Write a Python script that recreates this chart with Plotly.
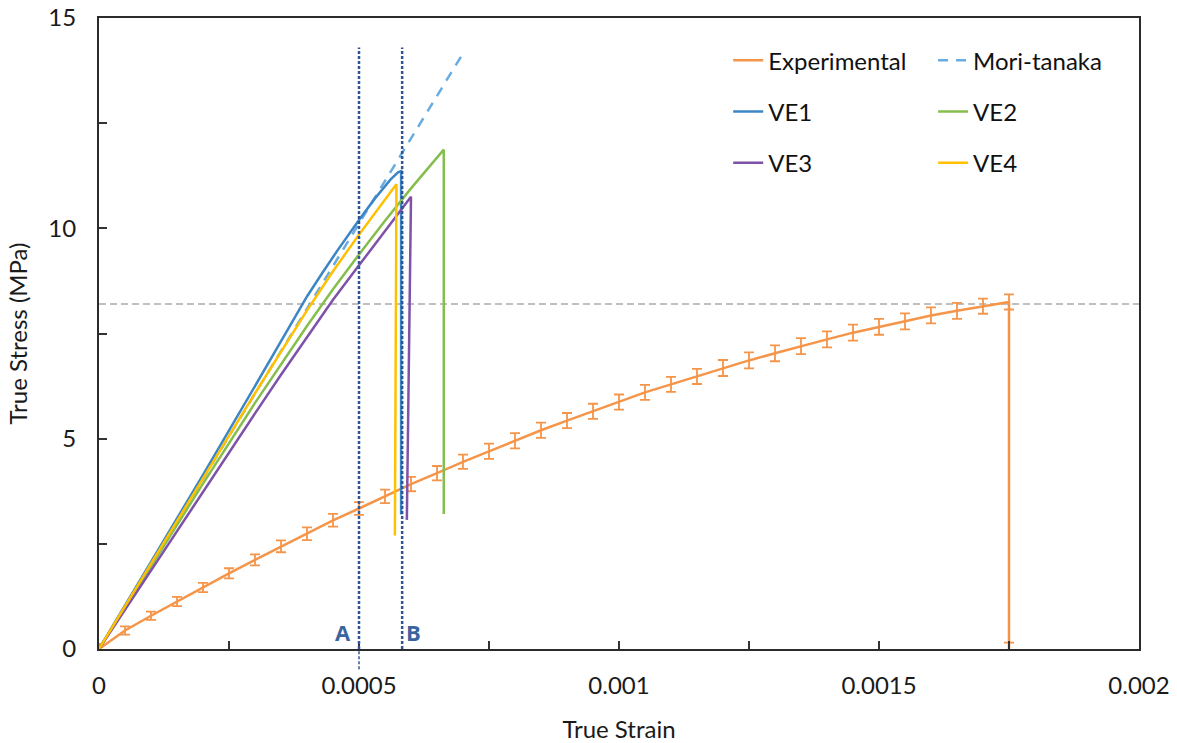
import plotly.graph_objects as go

# ---------------- data ----------------
exp_strain = [0, 0.00005, 0.0001, 0.00015, 0.0002, 0.00025, 0.0003, 0.00035, 0.0004, 0.00045,
              0.0005, 0.00055, 0.0006, 0.00065, 0.0007, 0.00075, 0.0008, 0.00085, 0.0009, 0.00095,
              0.001, 0.00105, 0.0011, 0.00115, 0.0012, 0.00125, 0.0013, 0.00135, 0.0014, 0.00145,
              0.0015, 0.00155, 0.0016, 0.00165, 0.0017, 0.00175, 0.00175]
exp_stress = [0, 0.44, 0.79, 1.13, 1.46, 1.80, 2.12, 2.44, 2.74, 3.06,
              3.34, 3.63, 3.92, 4.18, 4.45, 4.70, 4.95, 5.20, 5.43, 5.65,
              5.87, 6.10, 6.29, 6.48, 6.68, 6.86, 7.03, 7.20, 7.36, 7.52,
              7.66, 7.79, 7.93, 8.04, 8.15, 8.25, 0]
exp_err = [0.12, 0.10, 0.10, 0.11, 0.11, 0.12, 0.13, 0.14, 0.15, 0.15,
           0.15, 0.16, 0.17, 0.17, 0.17, 0.18, 0.18, 0.18, 0.18, 0.18,
           0.18, 0.18, 0.18, 0.18, 0.19, 0.19, 0.19, 0.19, 0.19, 0.19,
           0.19, 0.19, 0.19, 0.19, 0.18, 0.18, 0.15]

mt_strain = [0, 0.000701]
mt_stress = [0, 14.18]

ve1_strain = [0, 0.0001, 0.0002, 0.0003, 0.0004, 0.00043, 0.00046, 0.0005, 0.00053, 0.00056, 0.000575, 0.000581, 0.000581]
ve1_stress = [0, 2.06, 4.14, 6.25, 8.38, 8.95, 9.5, 10.2, 10.7, 11.15, 11.33, 11.36, 3.2]

ve2_strain = [0, 0.0001, 0.0002, 0.0003, 0.00035, 0.0004, 0.00045, 0.0005, 0.00055, 0.0006, 0.00065, 0.000663, 0.000663]
ve2_stress = [0, 1.97, 3.93, 5.85, 6.78, 7.68, 8.55, 9.38, 10.18, 10.95, 11.68, 11.87, 3.21]

ve3_strain = [0, 0.0001, 0.0002, 0.0003, 0.00035, 0.0004, 0.00045, 0.0005, 0.00055, 0.0006, 0.000592]
ve3_stress = [0, 1.87, 3.75, 5.6, 6.52, 7.42, 8.3, 9.12, 9.95, 10.75, 3.07]

ve4_strain = [0, 0.0001, 0.0002, 0.0003, 0.0004, 0.00045, 0.0005, 0.00053, 0.00056, 0.000572, 0.000569]
ve4_stress = [0, 2.02, 4.06, 6.08, 8.05, 8.98, 9.85, 10.35, 10.85, 11.05, 2.7]

line_a_strain = 0.0005
line_b_strain = 0.000583
lines_top_stress = 14.3
ref_stress = 8.2

x_tickvals = [0, 0.0005, 0.001, 0.0015, 0.002]
x_ticktext = ["0", "0.0005", "0.001", "0.0015", "0.002"]
y_tickvals = [0, 5, 10, 15]
y_ticktext = ["0", "5", "10", "15"]

# ---------------- style ----------------
FONT = "Lato, 'Open Sans', sans-serif"
C_EXP = "#F5954A"
C_MT = "#6AACDF"
C_VE1 = "#3C86C6"
C_VE2 = "#86BE4E"
C_VE3 = "#7E52A8"
C_VE4 = "#FFC000"
C_AB = "#2F5597"

fig = go.Figure()

fig.add_trace(go.Scatter(
    x=exp_strain, y=exp_stress, mode="lines", name="Experimental",
    line=dict(color=C_EXP, width=2.5),
    error_y=dict(type="data", array=exp_err, visible=True, color=C_EXP, thickness=1.8, width=5),
    legend="legend", legendgroup="g1"))
fig.add_trace(go.Scatter(
    x=mt_strain, y=mt_stress, mode="lines", name="Mori-tanaka",
    line=dict(color=C_MT, width=2.5, dash="10px,8px"),
    legend="legend2", legendgroup="g2"))
fig.add_trace(go.Scatter(
    x=ve1_strain, y=ve1_stress, mode="lines", name="VE1",
    line=dict(color=C_VE1, width=2.5), legend="legend", legendgroup="g3"))
fig.add_trace(go.Scatter(
    x=ve2_strain, y=ve2_stress, mode="lines", name="VE2",
    line=dict(color=C_VE2, width=2.5), legend="legend2", legendgroup="g4"))
fig.add_trace(go.Scatter(
    x=ve3_strain, y=ve3_stress, mode="lines", name="VE3",
    line=dict(color=C_VE3, width=2.5), legend="legend", legendgroup="g5"))
fig.add_trace(go.Scatter(
    x=ve4_strain, y=ve4_stress, mode="lines", name="VE4",
    line=dict(color=C_VE4, width=2.5), legend="legend2", legendgroup="g6"))

# reference horizontal line
fig.add_shape(type="line", xref="paper", yref="y", x0=0, x1=1, y0=ref_stress, y1=ref_stress,
              line=dict(color="#BFBFBF", width=2, dash="7px,4px"), layer="below")
# A and B vertical dotted lines
fig.add_shape(type="line", xref="x", yref="y", x0=line_a_strain, x1=line_a_strain,
              y0=0, y1=lines_top_stress, line=dict(color=C_AB, width=2.5, dash="3px,2px"))
fig.add_shape(type="line", xref="x", yref="paper", x0=line_a_strain, x1=line_a_strain,
              y0=-0.032, y1=0, line=dict(color=C_AB, width=1.5, dash="3px,2px"))
fig.add_shape(type="line", xref="x", yref="y", x0=line_b_strain, x1=line_b_strain,
              y0=0, y1=lines_top_stress, line=dict(color=C_AB, width=2.5, dash="3px,2px"))

fig.add_annotation(x=0.000469, y=0.4, text="<b>A</b>", showarrow=False,
                   font=dict(family="'Open Sans', sans-serif", size=22, color="#3A64A0"))
fig.add_annotation(x=0.000604, y=0.4, text="<b>B</b>", showarrow=False,
                   font=dict(family="'Open Sans', sans-serif", size=22, color="#3A64A0"))

fig.update_layout(
    width=1177, height=743,
    margin=dict(l=99, r=38, t=18, b=94),
    paper_bgcolor="white", plot_bgcolor="white",
    font=dict(family=FONT, size=24, color="#1a1a1a"),
    legend=dict(x=0.605, y=0.968, xanchor="left", yanchor="top", orientation="v",
                traceorder="grouped", tracegroupgap=17, bgcolor="rgba(0,0,0,0)",
                font=dict(family=FONT, size=24, color="#111111")),
    legend2=dict(x=0.802, y=0.968, xanchor="left", yanchor="top", orientation="v",
                 traceorder="grouped", tracegroupgap=17, bgcolor="rgba(0,0,0,0)",
                 font=dict(family=FONT, size=24, color="#111111")),
)

fig.update_xaxes(
    range=[0, 0.002], tickvals=x_tickvals, ticktext=x_ticktext, automargin=False,
    ticks="inside", ticklen=8, tickwidth=1.5, tickcolor="#333333",
    minor=dict(dtick=0.00025, tick0=0, ticks="inside", ticklen=8, tickwidth=1.5, tickcolor="#333333"),
    showline=True, linecolor="#2b2b2b", linewidth=2, mirror=True,
    showgrid=False, zeroline=False, ticklabelstandoff=14,
    tickfont=dict(family=FONT, size=24, color="#1a1a1a"),
    title=dict(text="True Strain", font=dict(family=FONT, size=24, color="#1a1a1a"), standoff=24),
)
fig.update_yaxes(
    range=[0, 15], tickvals=y_tickvals, ticktext=y_ticktext, automargin=False,
    ticks="inside", ticklen=8, tickwidth=1.5, tickcolor="#333333",
    minor=dict(dtick=2.5, tick0=0, ticks="inside", ticklen=8, tickwidth=1.5, tickcolor="#333333"),
    showline=True, linecolor="#2b2b2b", linewidth=2, mirror=True,
    showgrid=False, zeroline=False, ticklabelstandoff=16,
    tickfont=dict(family=FONT, size=24, color="#1a1a1a"),
    title=dict(text="True Stress (MPa)", font=dict(family=FONT, size=24, color="#1a1a1a"), standoff=14),
)

fig.write_html("out.html")
